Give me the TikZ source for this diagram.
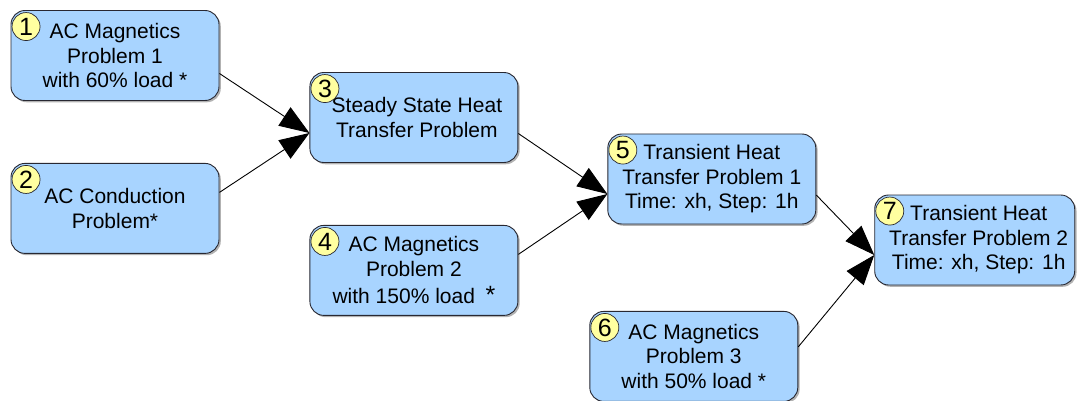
\documentclass[tikz,border=0pt]{standalone}
\usepackage{fontspec}
\setmainfont{Liberation Sans}
\usepackage{xcolor}
\definecolor{taskblue}{RGB}{168,212,255}
\definecolor{badgeyel}{RGB}{255,255,160}
\definecolor{edgegray}{RGB}{40,40,50}
\usetikzlibrary{arrows.meta, positioning, shadows}
\tikzset{
  task/.style={
    rectangle, draw=edgegray, fill=taskblue, line width=0.9pt,
    minimum width=208pt, minimum height=90pt,
    align=center, rounded corners=14pt, inner sep=0pt,
    font=\fontsize{21}{24.5}\selectfont,
    drop shadow={shadow xshift=1.8pt, shadow yshift=-1.8pt,
                 fill=black, opacity=0.3}},
  badge/.style={
    circle, draw=edgegray, fill=badgeyel, line width=0.7pt,
    minimum size=28pt, inner sep=0pt,
    font=\fontsize{25}{25}\selectfont},
  arr/.style={-{Triangle[length=30pt, width=22pt]}, line width=0.9pt, black},
}

\begin{document}
\begin{tikzpicture}
  \useasboundingbox (0,0) rectangle (1079pt,-401pt);
  % first column
  \node[task] (b1) at (115pt,-55.5pt)
    {AC Magnetics\\Problem 1\\with 60\% load *};
  \node[task, below=62pt of b1] (b2)
    {AC Conduction\\Problem*};
  % second column
  \node[task, right=90pt of b1, yshift=-62pt] (b3)
    {\hspace{6pt}Steady State Heat\\\hspace{6pt}Transfer Problem};
  \node[task, below=62pt of b3] (b4)
    {AC Magnetics\\Problem 2\\[3pt]with 150\% load\enspace{\fontsize{25}{24}\selectfont*}};
  % third column
  \node[task, right=89pt of b3, yshift=-61.5pt] (b5)
    {Transient Heat\\Transfer Problem 1\\Time: xh, Step: 1h};
  \node[task, right=71pt of b4, yshift=-86pt] (b6)
    {AC Magnetics\\Problem 3\\with 50\% load *};
  % last step
  \node[task, minimum width=200pt, right=58pt of b5, yshift=-61pt] (b7)
    {\hspace{8pt}Transient Heat\\\hspace{8pt}Transfer Problem 2\\\hspace{8pt}Time: xh, Step: 1h};

  % step numbers
  \foreach \i in {1,...,7}
    \node[badge] (n\i) at ([shift={(15.5pt,-16.5pt)}]b\i.north west) {\i};

  \draw[arr] ([yshift=-18pt]b1.east) -- ([yshift=-15.5pt]b3.west);
  \draw[arr] ([yshift=16pt]b2.east) -- ([yshift=-15.5pt]b3.west);
  \draw[arr] ([yshift=-16pt]b3.east) -- ([yshift=-15pt]b5.west);
  \draw[arr] ([yshift=16pt]b4.east) -- ([yshift=-15pt]b5.west);
  \draw[arr] ([yshift=-16pt]b5.east) -- ([yshift=-15pt]b7.west);
  \draw[arr] ([yshift=9.5pt]b6.east) -- ([yshift=-15pt]b7.west);
\end{tikzpicture}
\end{document}
